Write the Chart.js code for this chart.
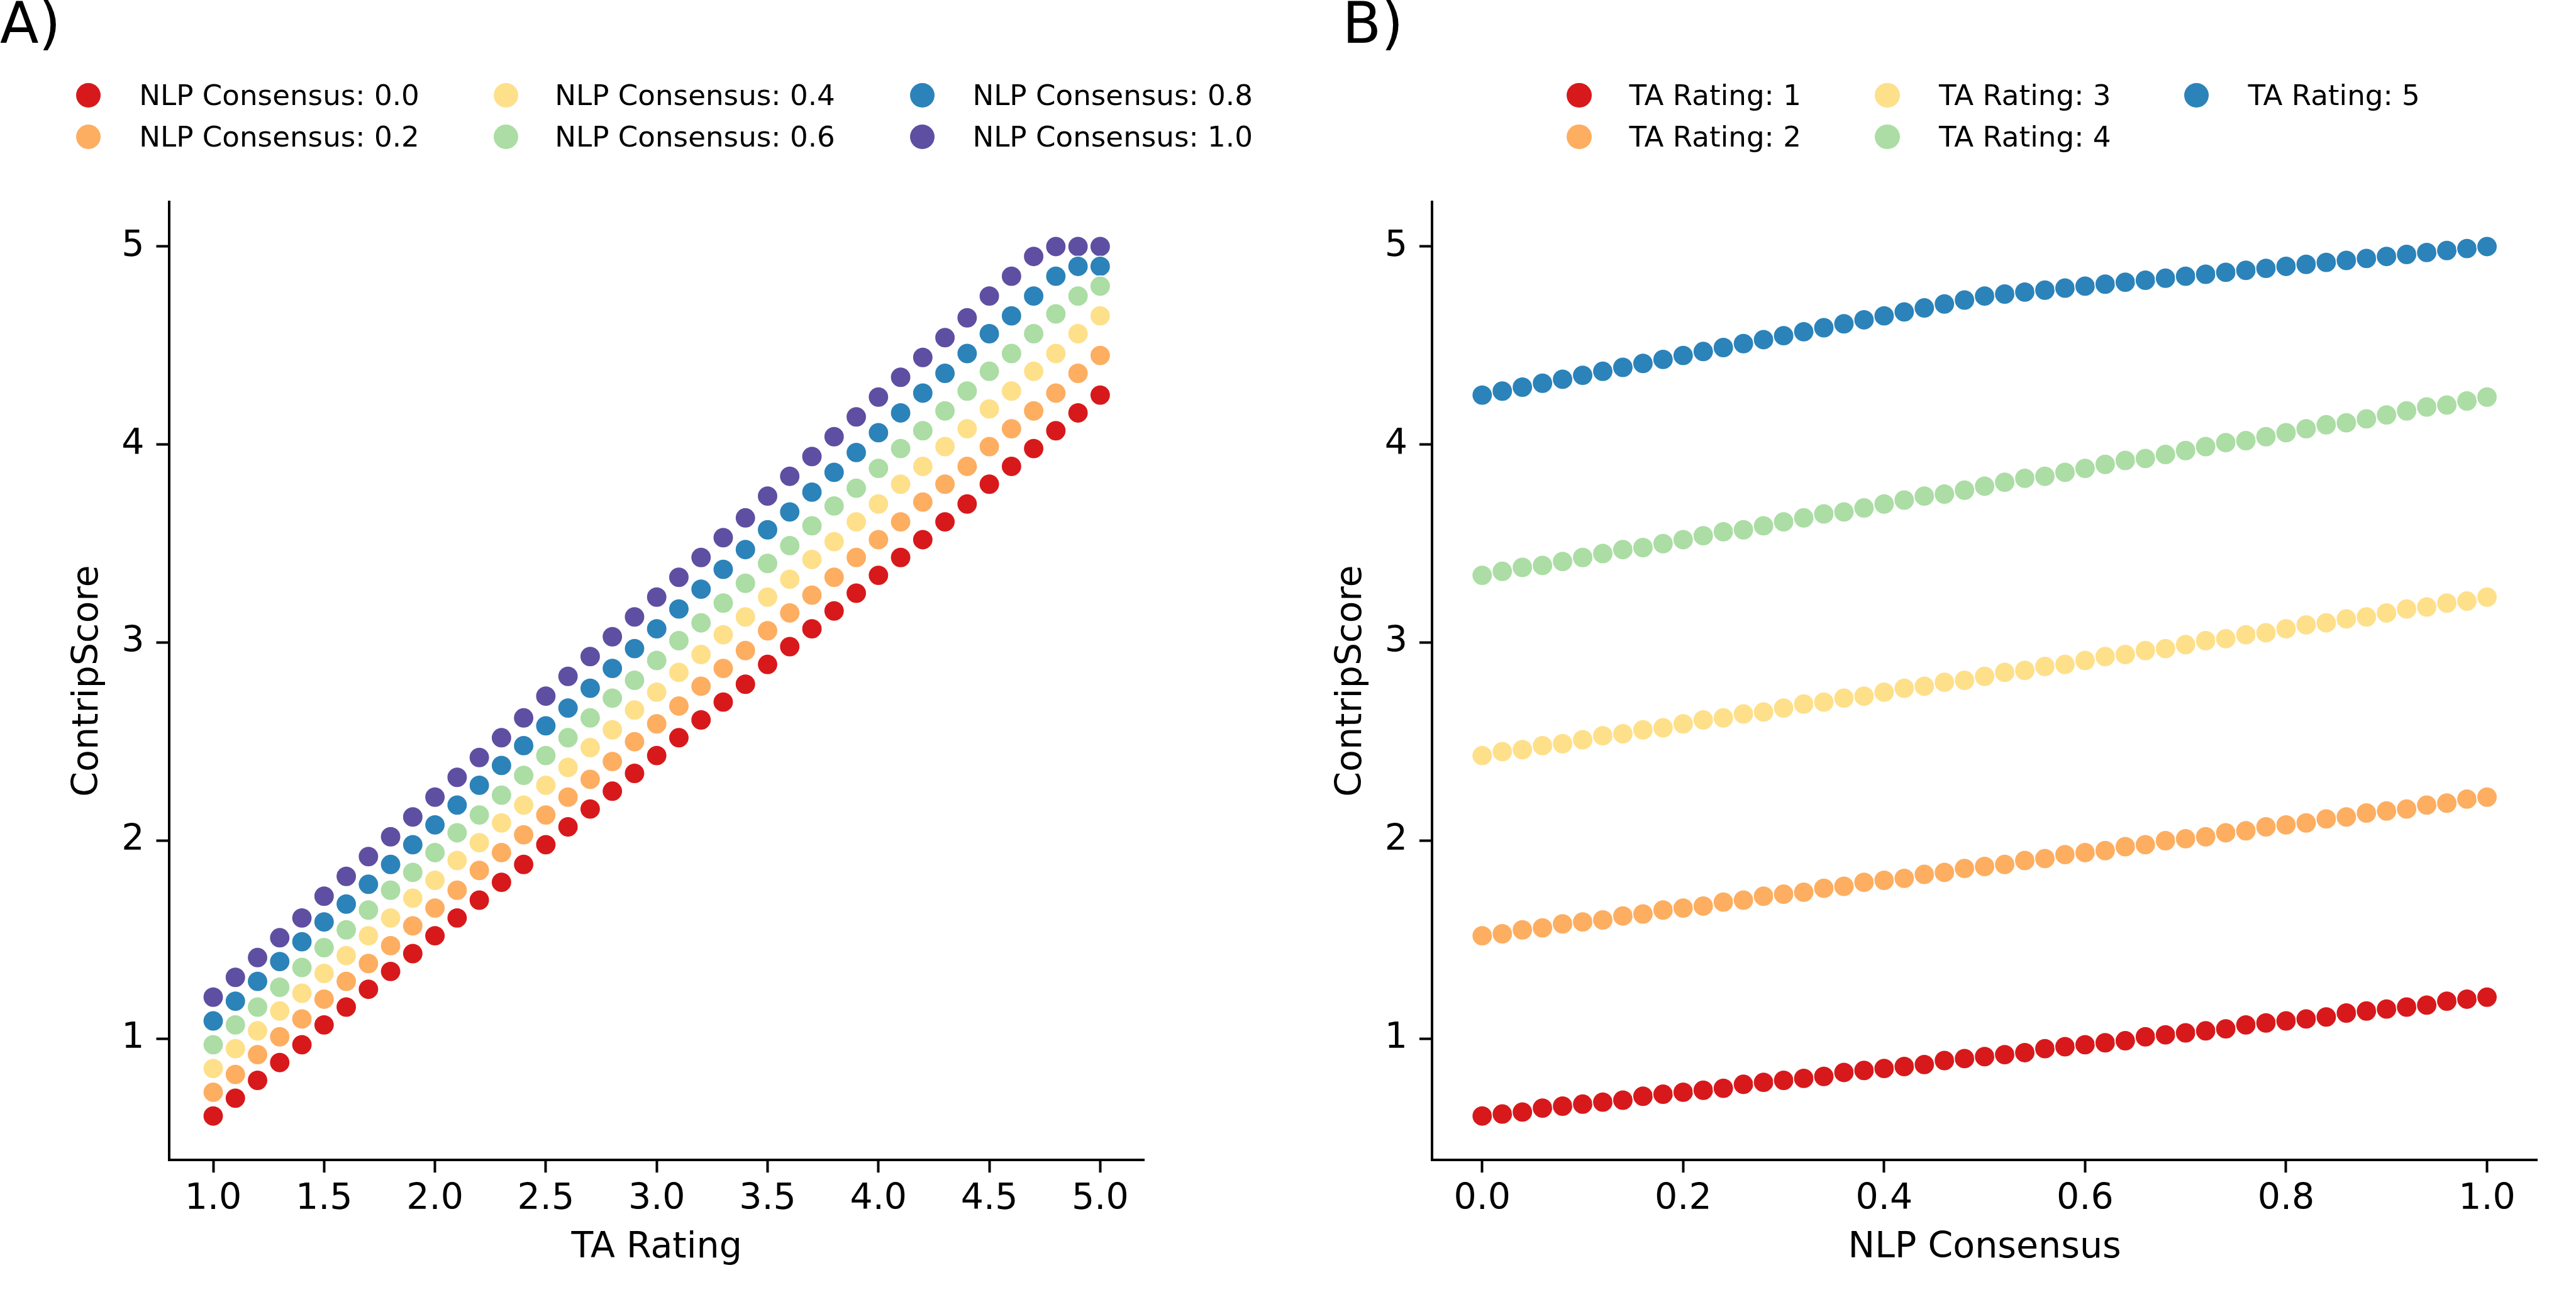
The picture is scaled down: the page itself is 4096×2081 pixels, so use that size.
<!DOCTYPE html>
<html>
<head>
<meta charset="utf-8">
<script src="https://cdn.jsdelivr.net/npm/chart.js@4.4.1/dist/chart.umd.min.js"></script>
<style>
html,body{margin:0;padding:0;background:#fff;width:4096px;height:2081px;overflow:hidden;}
#wrap{position:relative;width:4096px;height:2081px;background:#fff;}
canvas{position:absolute;top:0;}
.t{position:absolute;line-height:0;white-space:nowrap;color:#000;font-family:"DejaVu Sans";}
.m{position:absolute;border-radius:50%;}
</style>
</head>
<body>
<div id="wrap">
<canvas id="cA" width="2048" height="2081" style="left:0px;width:2048px;height:2081px"></canvas>
<canvas id="cB" width="2048" height="2081" style="left:2048px;width:2048px;height:2081px"></canvas>
</div>
<script>
// ---------------- DATA ----------------
const taRatings = [1.0,1.1,1.2,1.3,1.4,1.5,1.6,1.7,1.8,1.9,2.0,2.1,2.2,2.3,2.4,2.5,2.6,2.7,2.8,2.9,3.0,3.1,3.2,3.3,3.4,3.5,3.6,3.7,3.8,3.9,4.0,4.1,4.2,4.3,4.4,4.5,4.6,4.7,4.8,4.9,5.0];
const nlpConsensus = [0.00,0.02,0.04,0.06,0.08,0.10,0.12,0.14,0.16,0.18,0.20,0.22,0.24,0.26,0.28,0.30,0.32,0.34,0.36,0.38,0.40,0.42,0.44,0.46,0.48,0.50,0.52,0.54,0.56,0.58,0.60,0.62,0.64,0.66,0.68,0.70,0.72,0.74,0.76,0.78,0.80,0.82,0.84,0.86,0.88,0.90,0.92,0.94,0.96,0.98,1.00];

// Panel A: ContripScore vs TA Rating, one series per NLP consensus level
const scoreNlp00 = [0.61,0.70,0.79,0.88,0.97,1.07,1.16,1.25,1.34,1.43,1.52,1.61,1.70,1.79,1.88,1.98,2.07,2.16,2.25,2.34,2.43,2.52,2.61,2.70,2.79,2.89,2.98,3.07,3.16,3.25,3.34,3.43,3.52,3.61,3.70,3.80,3.89,3.98,4.07,4.16,4.25];
const scoreNlp02 = [0.73,0.82,0.92,1.01,1.10,1.20,1.29,1.38,1.47,1.57,1.66,1.75,1.85,1.94,2.03,2.13,2.22,2.31,2.40,2.50,2.59,2.68,2.78,2.87,2.96,3.06,3.15,3.24,3.33,3.43,3.52,3.61,3.71,3.80,3.89,3.99,4.08,4.17,4.26,4.36,4.45];
const scoreNlp04 = [0.85,0.95,1.04,1.14,1.23,1.33,1.42,1.52,1.61,1.71,1.80,1.90,1.99,2.09,2.18,2.28,2.37,2.47,2.56,2.66,2.75,2.85,2.94,3.04,3.13,3.23,3.32,3.42,3.51,3.61,3.70,3.80,3.89,3.99,4.08,4.18,4.27,4.37,4.46,4.56,4.65];
const scoreNlp06 = [0.97,1.07,1.16,1.26,1.36,1.46,1.55,1.65,1.75,1.84,1.94,2.04,2.13,2.23,2.33,2.43,2.52,2.62,2.72,2.81,2.91,3.01,3.10,3.20,3.30,3.40,3.49,3.59,3.69,3.78,3.88,3.98,4.07,4.17,4.27,4.37,4.46,4.56,4.66,4.75,4.80];
const scoreNlp08 = [1.09,1.19,1.29,1.39,1.49,1.59,1.68,1.78,1.88,1.98,2.08,2.18,2.28,2.38,2.48,2.58,2.67,2.77,2.87,2.97,3.07,3.17,3.27,3.37,3.47,3.57,3.66,3.76,3.86,3.96,4.06,4.16,4.26,4.36,4.46,4.56,4.65,4.75,4.85,4.90,4.90];
const scoreNlp10 = [1.21,1.31,1.41,1.51,1.61,1.72,1.82,1.92,2.02,2.12,2.22,2.32,2.42,2.52,2.62,2.73,2.83,2.93,3.03,3.13,3.23,3.33,3.43,3.53,3.63,3.74,3.84,3.94,4.04,4.14,4.24,4.34,4.44,4.54,4.64,4.75,4.85,4.95,5.00,5.00,5.00];

// Panel B: ContripScore vs NLP Consensus, one series per TA rating
const scoreTa1 = [0.61,0.62,0.63,0.65,0.66,0.67,0.68,0.69,0.71,0.72,0.73,0.74,0.75,0.77,0.78,0.79,0.80,0.81,0.83,0.84,0.85,0.86,0.87,0.89,0.90,0.91,0.92,0.93,0.95,0.96,0.97,0.98,0.99,1.01,1.02,1.03,1.04,1.05,1.07,1.08,1.09,1.10,1.11,1.13,1.14,1.15,1.16,1.17,1.19,1.20,1.21];
const scoreTa2 = [1.52,1.53,1.55,1.56,1.58,1.59,1.60,1.62,1.63,1.65,1.66,1.67,1.69,1.70,1.72,1.73,1.74,1.76,1.77,1.79,1.80,1.81,1.83,1.84,1.86,1.87,1.88,1.90,1.91,1.93,1.94,1.95,1.97,1.98,2.00,2.01,2.02,2.04,2.05,2.07,2.08,2.09,2.11,2.12,2.14,2.15,2.16,2.18,2.19,2.21,2.22];
const scoreTa3 = [2.43,2.45,2.46,2.48,2.49,2.51,2.53,2.54,2.56,2.57,2.59,2.61,2.62,2.64,2.65,2.67,2.69,2.70,2.72,2.73,2.75,2.77,2.78,2.80,2.81,2.83,2.85,2.86,2.88,2.89,2.91,2.93,2.94,2.96,2.97,2.99,3.01,3.02,3.04,3.05,3.07,3.09,3.10,3.12,3.13,3.15,3.17,3.18,3.20,3.21,3.23];
const scoreTa4 = [3.34,3.36,3.38,3.39,3.41,3.43,3.45,3.47,3.48,3.50,3.52,3.54,3.56,3.57,3.59,3.61,3.63,3.65,3.66,3.68,3.70,3.72,3.74,3.75,3.77,3.79,3.81,3.83,3.84,3.86,3.88,3.90,3.92,3.93,3.95,3.97,3.99,4.01,4.02,4.04,4.06,4.08,4.10,4.11,4.13,4.15,4.17,4.19,4.20,4.22,4.24];
const scoreTa5 = [4.25,4.27,4.29,4.31,4.33,4.35,4.37,4.39,4.41,4.43,4.45,4.47,4.49,4.51,4.53,4.55,4.57,4.59,4.61,4.63,4.65,4.67,4.69,4.71,4.73,4.75,4.76,4.77,4.78,4.79,4.80,4.81,4.82,4.83,4.84,4.85,4.86,4.87,4.88,4.89,4.90,4.91,4.92,4.93,4.94,4.95,4.96,4.97,4.98,4.99,5.00];

const nlpLegendLabels = ['NLP Consensus: 0.0','NLP Consensus: 0.2','NLP Consensus: 0.4','NLP Consensus: 0.6','NLP Consensus: 0.8','NLP Consensus: 1.0'];
const taLegendLabels = ['TA Rating: 1','TA Rating: 2','TA Rating: 3','TA Rating: 4','TA Rating: 5'];

const xTicksA = [1.0,1.5,2.0,2.5,3.0,3.5,4.0,4.5,5.0];
const xTickLabelsA = ['1.0','1.5','2.0','2.5','3.0','3.5','4.0','4.5','5.0'];
const xTicksB = [0.0,0.2,0.4,0.6,0.8,1.0];
const xTickLabelsB = ['0.0','0.2','0.4','0.6','0.8','1.0'];
const yTicks = [1,2,3,4,5];
const yTickLabels = ['1','2','3','4','5'];

const xTitleA = 'TA Rating';
const xTitleB = 'NLP Consensus';
const yTitle = 'ContripScore';
const panelLabels = ['A)','B)'];

// ---------------- STYLE ----------------
const seriesColors = ['#d7191c','#fdae61','#fee08b','#abdda4','#2b83ba','#5e4fa2'];
const FONT = 'DejaVu Sans';
const TICK_FS = 57;
const LEG_FS = 45.2;
const LABEL_FS = 90;

const wrap = document.getElementById('wrap');

function addText(txt, left, baseline, fs) {
  const t = document.createElement('div');
  t.className = 't';
  t.style.left = left + 'px';
  t.style.top = (baseline - 0.346 * fs) + 'px';
  t.style.fontSize = fs + 'px';
  t.textContent = txt;
  wrap.appendChild(t);
}

function addLegend(labels, colors, markerX, textX) {
  const markY = [151.3, 217.8];
  const baseY = [167.3, 233.8];
  const d = 39.3;
  labels.forEach((lab, i) => {
    const col = Math.floor(i / 2), row = i % 2;
    const m = document.createElement('div');
    m.className = 'm';
    m.style.left = (markerX[col] - d / 2) + 'px';
    m.style.top = (markY[row] - d / 2) + 'px';
    m.style.width = d + 'px';
    m.style.height = d + 'px';
    m.style.background = colors[i];
    wrap.appendChild(m);
    addText(lab, textX[col], baseY[row], LEG_FS);
  });
}

function makeChart(id, xs, seriesList, names, cfg) {
  const datasets = seriesList.map((ys, k) => ({
    label: names[k],
    data: xs.map((x, i) => ({x: x, y: ys[i]})),
    backgroundColor: seriesColors[k],
    borderColor: '#ffffff',
    borderWidth: 1.6,
    pointRadius: 16.25,
    pointHoverRadius: 16.25,
    pointBorderWidth: 1.6
  }));
  const gridOpts = {display: true, drawOnChartArea: false, drawTicks: true, tickLength: 20, tickWidth: 4, tickColor: '#000'};
  const borderOpts = {display: true, color: '#000', width: 4};
  return new Chart(document.getElementById(id), {
    type: 'scatter',
    data: {datasets: datasets},
    options: {
      responsive: false,
      animation: false,
      devicePixelRatio: 1,
      events: [],
      layout: {padding: {top: 321.1, left: 0, bottom: 0, right: cfg.padRight}},
      plugins: {legend: {display: false}, tooltip: {enabled: false}, title: {display: false}},
      scales: {
        x: {
          type: 'linear', min: cfg.xMin, max: cfg.xMax,
          afterBuildTicks: s => { s.ticks = cfg.xTicks.map(v => ({value: v})); },
          afterFit: s => { s.height = 236.9; },
          ticks: {autoSkip: false, maxRotation: 0, minRotation: 0, padding: 8.8, color: '#000',
                  font: {family: FONT, size: TICK_FS}, callback: (v, i) => cfg.xTickLabels[i]},
          grid: gridOpts, border: borderOpts,
          title: {display: true, text: cfg.xTitle, color: '#000', font: {family: FONT, size: TICK_FS},
                  padding: {top: 0, bottom: 62.5}}
        },
        y: {
          type: 'linear', min: 0.388, max: 5.225,
          afterBuildTicks: s => { s.ticks = yTicks.map(v => ({value: v})); },
          afterFit: s => { s.width = cfg.yWidth; },
          ticks: {autoSkip: false, padding: 19, color: '#000',
                  font: {family: FONT, size: TICK_FS}, callback: (v, i) => yTickLabels[i]},
          grid: gridOpts, border: borderOpts,
          title: {display: true, text: yTitle, color: '#000', font: {family: FONT, size: TICK_FS},
                  padding: {top: cfg.yTitlePad, bottom: 0}}
        }
      }
    }
  });
}

makeChart('cA', taRatings,
  [scoreNlp00, scoreNlp02, scoreNlp04, scoreNlp06, scoreNlp08, scoreNlp10], nlpLegendLabels,
  {xMin: 0.8, xMax: 5.2, xTicks: xTicksA, xTickLabels: xTickLabelsA, xTitle: xTitleA,
   yWidth: 268.5, padRight: 228.1, yTitlePad: 106.1});

makeChart('cB', nlpConsensus,
  [scoreTa1, scoreTa2, scoreTa3, scoreTa4, scoreTa5], taLegendLabels,
  {xMin: -0.05, xMax: 1.05, xTicks: xTicksB, xTickLabels: xTickLabelsB, xTitle: xTitleB,
   yWidth: 228.9, padRight: 61.6, yTitlePad: 66.5});

addLegend(nlpLegendLabels, seriesColors, [140.6, 804.2, 1466.8], [221.2, 882.2, 1546.4]);
addLegend(taLegendLabels, seriesColors, [2510.9, 3001.0, 3492.3], [2590.5, 3083.1, 3574.4]);
addText(panelLabels[0], 0, 68.2, LABEL_FS);
addText(panelLabels[1], 2134.5, 68.2, LABEL_FS);
</script>
</body>
</html>
